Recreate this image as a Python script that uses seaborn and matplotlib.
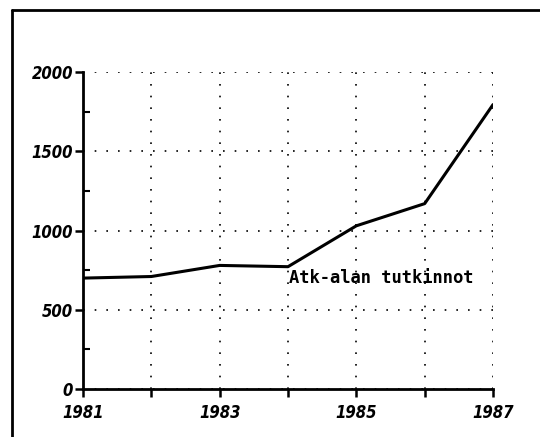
import matplotlib.pyplot as plt
import seaborn as sns
import pandas as pd
from matplotlib.ticker import MultipleLocator

years = [1981, 1982, 1983, 1984, 1985, 1986, 1987]
degrees = [700, 710, 780, 772, 1030, 1170, 1795]
series_label = "Atk-alan tutkinnot"
year_ticks = [1981, 1983, 1985, 1987]

df = pd.DataFrame({"year": years, "value": degrees})

sns.set_style("white")
fig = plt.figure(figsize=(5.4, 4.37), dpi=100)
ax = fig.add_axes([0.1537, 0.1098, 0.913 - 0.1537, 0.835 - 0.1098])

sns.lineplot(data=df, x="year", y="value", ax=ax, color="black", linewidth=2.2)

ax.set_xlim(1981, 1987)
ax.set_ylim(0, 2000)
ax.set_xticks(years)
ax.set_xticklabels([str(y) if y in year_ticks else "" for y in years])
ax.set_yticks([0, 500, 1000, 1500, 2000])
ax.yaxis.set_minor_locator(MultipleLocator(250))
ax.set_xlabel("")
ax.set_ylabel("")

ax.grid(True, which="major", linestyle=(0, (1, 6)), color="black", linewidth=1.2)
for s in ["top", "right"]:
    ax.spines[s].set_visible(False)
for s in ["left", "bottom"]:
    ax.spines[s].set_linewidth(2)
    ax.spines[s].set_color("black")

ax.tick_params(axis="x", which="major", bottom=True, direction="out", length=6, width=1.8,
               pad=5, colors="black")
ax.tick_params(axis="y", which="major", left=True, direction="out", length=6, width=1.8,
               pad=1, colors="black")
ax.tick_params(axis="y", which="minor", left=True, direction="in", length=5, width=1.5,
               colors="black")
for lab in ax.get_xticklabels() + ax.get_yticklabels():
    lab.set_fontweight("bold")
    lab.set_fontstyle("italic")
    lab.set_fontsize(12)
    lab.set_fontstretch("condensed")
    lab.set_fontfamily("DejaVu Sans")

ax.text(1984.02, 700, series_label, family="DejaVu Sans Mono", fontweight="bold",
        fontsize=12.3, va="center", ha="left", color="black")

# outer frame (top and left edges)
fig.add_artist(plt.Line2D([12 / 540, 12 / 540], [0, 1 - 10 / 437], color="black", linewidth=2,
                          transform=fig.transFigure))
fig.add_artist(plt.Line2D([12 / 540, 1], [1 - 10 / 437, 1 - 10 / 437], color="black", linewidth=2,
                          transform=fig.transFigure))

fig.savefig("out.png", dpi=100)
